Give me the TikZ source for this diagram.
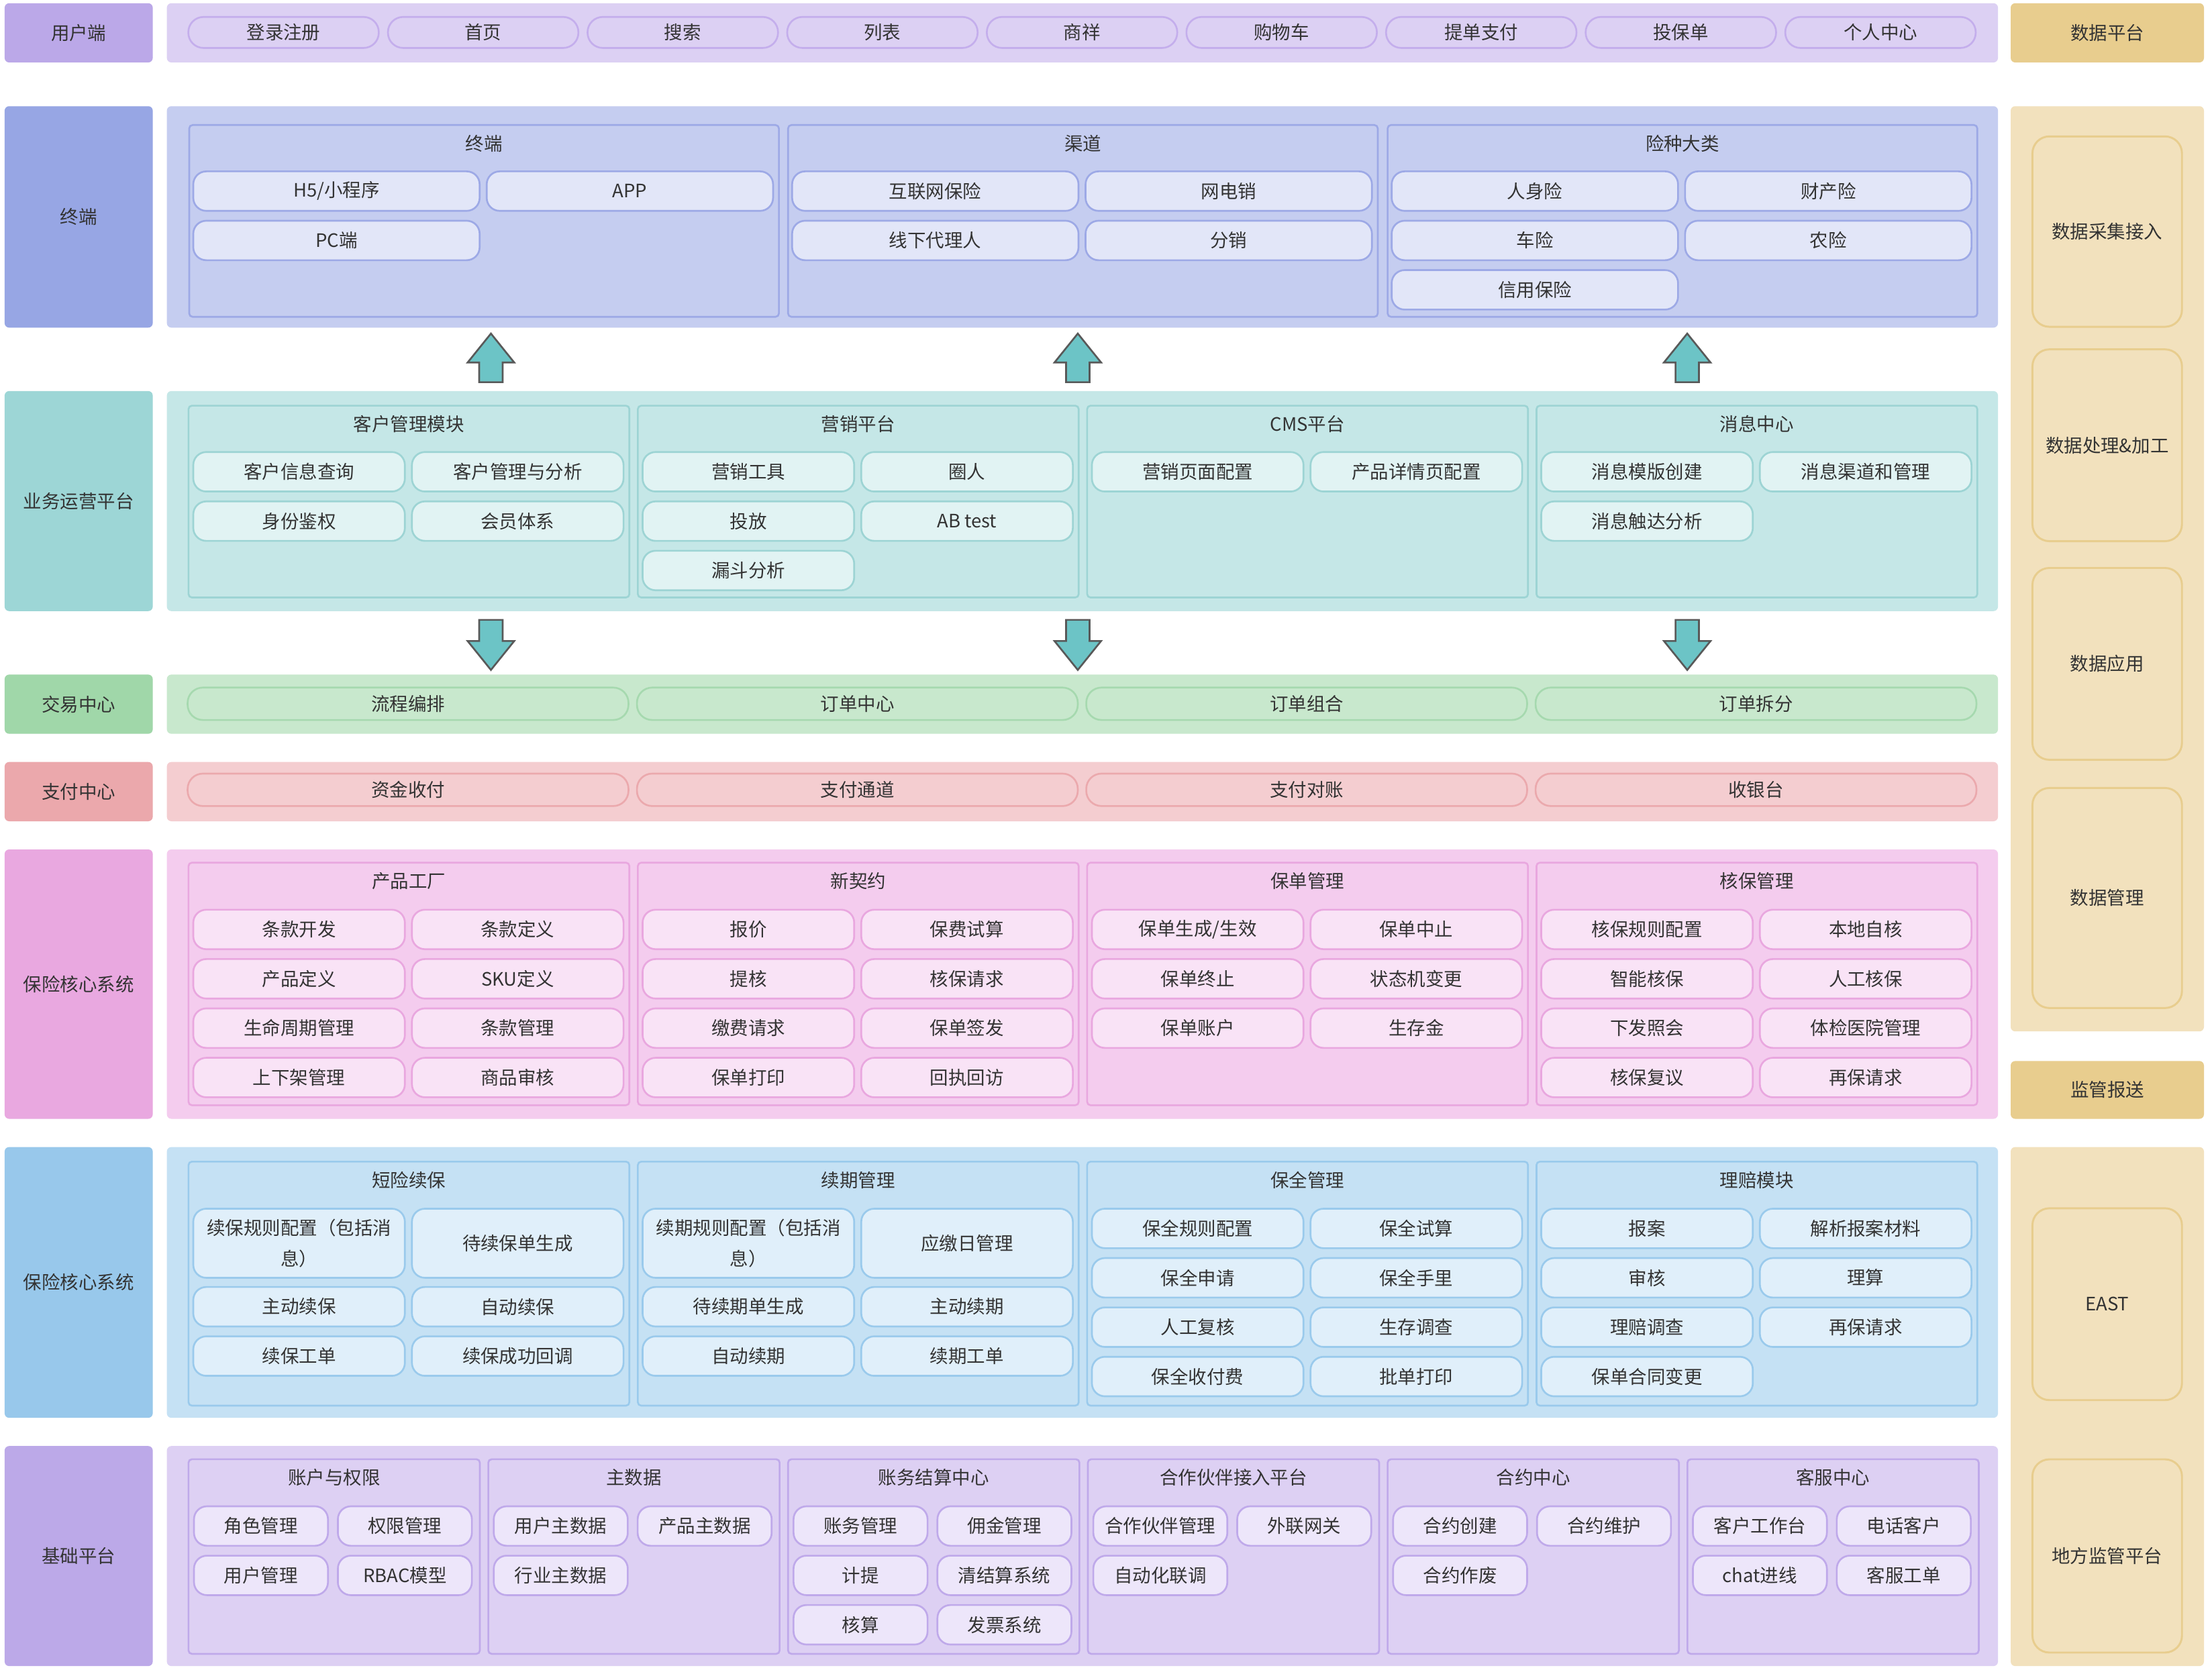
\documentclass[tikz,border=0pt]{standalone}
\usepackage{fontspec}
\setmainfont{Noto Sans CJK SC}
\usetikzlibrary{positioning, calc}

\definecolor{txt}{HTML}{333333}
\definecolor{usrL}{HTML}{BBA8E8}\definecolor{usrP}{HTML}{DCD0F3}\definecolor{usrB}{HTML}{C4AEEC}
\definecolor{endL}{HTML}{97A6E4}\definecolor{endP}{HTML}{C5CDF0}\definecolor{endB}{HTML}{9DA9E6}\definecolor{endI}{HTML}{E2E6F8}
\definecolor{opsL}{HTML}{9DD6D6}\definecolor{opsP}{HTML}{C5E7E7}\definecolor{opsB}{HTML}{9DD4D4}\definecolor{opsI}{HTML}{E1F3F3}
\definecolor{trdL}{HTML}{A0D7A9}\definecolor{trdP}{HTML}{C8E8CD}\definecolor{trdB}{HTML}{A6D9AF}
\definecolor{payL}{HTML}{EBA8AC}\definecolor{payP}{HTML}{F4CDD0}\definecolor{payB}{HTML}{EBA9AD}
\definecolor{pnkL}{HTML}{E9A8E0}\definecolor{pnkP}{HTML}{F4CCEE}\definecolor{pnkB}{HTML}{E9A7DF}\definecolor{pnkI}{HTML}{F9E3F6}
\definecolor{bluL}{HTML}{98C8EB}\definecolor{bluP}{HTML}{C5E1F4}\definecolor{bluB}{HTML}{9ACAEC}\definecolor{bluI}{HTML}{E0EFFA}
\definecolor{basL}{HTML}{BCA9E8}\definecolor{basP}{HTML}{DDD0F3}\definecolor{basB}{HTML}{BFA9EA}\definecolor{basI}{HTML}{EDE6FA}
\definecolor{datH}{HTML}{E8CD8E}\definecolor{datP}{HTML}{F2E1BD}
\definecolor{arrF}{HTML}{6CC4C6}\definecolor{arrD}{HTML}{595959}

\newcommand\boxfont{\fontsize{9.3}{11}\selectfont}
\newcommand\dblfont{\fontsize{9.3}{15.3}\selectfont}

\tikzset{
  sz/.style 2 args={minimum width=#1*0.25mm, minimum height=#2*0.25mm},
  lane/.style={rounded corners=0.8mm, inner sep=0pt, anchor=north west,
    font=\boxfont, text=txt},
  grp/.style={draw, line width=0.9pt, rounded corners=0.6mm, inner sep=0pt,
    anchor=north west},
  ttl/.style={font=\boxfont, text=txt},
  itm/.style={draw, line width=0.9pt, rounded corners=2.3mm, inner sep=0pt,
    align=center, font=\boxfont, text=txt},
  pill/.style={itm, rounded corners=2.7mm},
  dsub/.style={draw=datH, line width=1pt, rounded corners=3mm, inner sep=0pt,
    anchor=north west, font=\boxfont, text=txt},
  barrow/.style={fill=arrF, draw=arrD, line width=0.9pt, line join=miter}
}

% name, left, top, width, height, title
\newcommand\modbox[6]{%
  \node[grp, sz={#4}{#5}] (#1) at (#2,#3) {};
  \node[ttl] (#1t) at ($(#1.north)+(0,13.7)$) {#6};
}
% prefix, x of first column, column pitch, y of first row, width, items
\newcommand\modrows[6]{%
  \foreach \nm [count=\k from 0] in {#6}{%
    \pgfmathtruncatemacro\cc{mod(\k,2)}%
    \pgfmathtruncatemacro\rr{\k/2}%
    \node[itm, sz={#5}{28}] (#1\k) at ({#2+\cc*#3},{#4+\rr*35}) {\nm};
  }%
}

\begin{document}
\begin{tikzpicture}[x=0.25mm, y=-0.25mm]
  \useasboundingbox (0,0) rectangle (1568,1184);
  \fill[white] (0,0) rectangle (1568,1184);

  % layers on the left
  \node[lane, fill=usrL, sz={105}{42}]   (uL) at (3,2)    {用户端};
  \node[lane, fill=usrP, sz={1298}{42}]  (uP) at (118,2)  {};
  \node[lane, fill=endL, sz={105}{157}]  (eL) at (3,75)   {终端};
  \node[lane, fill=endP, sz={1298}{157}] (eP) at (118,75) {};
  \node[lane, fill=opsL, sz={105}{156}]  (oL) at (3,277)  {业务运营平台};
  \node[lane, fill=opsP, sz={1298}{156}] (oP) at (118,277) {};
  \node[lane, fill=trdL, sz={105}{42}]   (tL) at (3,478)  {交易中心};
  \node[lane, fill=trdP, sz={1298}{42}]  (tP) at (118,478) {};
  \node[lane, fill=payL, sz={105}{42}]   (zL) at (3,540)  {支付中心};
  \node[lane, fill=payP, sz={1298}{42}]  (zP) at (118,540) {};
  \node[lane, fill=pnkL, sz={105}{191}]  (kL) at (3,602)  {保险核心系统};
  \node[lane, fill=pnkP, sz={1298}{191}] (kP) at (118,602) {};
  \node[lane, fill=bluL, sz={105}{192}]  (sL) at (3,813)  {保险核心系统};
  \node[lane, fill=bluP, sz={1298}{192}] (sP) at (118,813) {};
  \node[lane, fill=basL, sz={105}{156}]  (bL) at (3,1025) {基础平台};
  \node[lane, fill=basP, sz={1298}{156}] (bP) at (118,1025) {};

  % data column on the right
  \node[lane, fill=datH, sz={137}{42}]  (dH) at (1425,2)   {数据平台};
  \node[lane, fill=datP, sz={137}{656}] (dP) at (1425,75)  {};
  \node[dsub, sz={106}{135}] (d1) at (1440,96)  {数据采集接入};
  \node[dsub, sz={106}{136}] (d2) at (1440,247) {数据处理\&加工};
  \node[dsub, sz={106}{136}] (d3) at (1440,402) {数据应用};
  \node[dsub, sz={106}{156}] (d4) at (1440,558) {数据管理};
  \node[lane, fill=datH, sz={137}{41}]  (rH) at (1425,752) {监管报送};
  \node[lane, fill=datP, sz={137}{368}] (rP) at (1425,813) {};
  \node[dsub, sz={106}{136}] (r1) at (1440,856)  {EAST};
  \node[dsub, sz={106}{137}] (r2) at (1440,1034) {地方监管平台};

  % 用户端
  \begin{scope}[itm/.append style={draw=usrB, fill=usrP}]
    \foreach \nm [count=\k from 0] in {登录注册,首页,搜索,列表,商祥,购物车,提单支付,投保单,个人中心}
      \node[pill, sz={135}{22}] (u\k) at ({201+\k*141.5},23) {\nm};
  \end{scope}

  % 终端
  \begin{scope}[grp/.append style={draw=endB}, itm/.append style={draw=endB, fill=endI}]
    \modbox{e1}{133.5}{88}{418}{136}{终端}
    \modrows{e1i}{238.5}{208}{135.5}{203}{H5/小程序,APP,PC端}
    \modbox{e2}{558}{88}{418}{136}{渠道}
    \modrows{e2i}{663}{208}{135.5}{203}{互联网保险,网电销,线下代理人,分销}
    \modbox{e3}{983}{88}{418}{136}{险种大类}
    \modrows{e3i}{1088}{208}{135.5}{203}{人身险,财产险,车险,农险,信用保险}
  \end{scope}

  % 业务运营平台
  \begin{scope}[grp/.append style={draw=opsB}, itm/.append style={draw=opsB, fill=opsI}]
    \modbox{o1}{133}{287}{312.5}{136}{客户管理模块}
    \modrows{o1i}{212}{155}{334.5}{150}{客户信息查询,客户管理与分析,身份鉴权,会员体系}
    \modbox{o2}{451.5}{287}{312.5}{136}{营销平台}
    \modrows{o2i}{530.5}{155}{334.5}{150}{营销工具,圈人,投放,AB test,漏斗分析}
    \modbox{o3}{770}{287}{312.5}{136}{CMS平台}
    \modrows{o3i}{849}{155}{334.5}{150}{营销页面配置,产品详情页配置}
    \modbox{o4}{1088.5}{287}{312.5}{136}{消息中心}
    \modrows{o4i}{1167.5}{155}{334.5}{150}{消息模版创建,消息渠道和管理,消息触达分析}
  \end{scope}

  % 交易中心, 支付中心
  \begin{scope}[itm/.append style={draw=trdB, fill=trdP}]
    \foreach \nm [count=\k from 0] in {流程编排,订单中心,订单组合,订单拆分}
      \node[pill, sz={312.5}{23}] (t\k) at ({289.25+\k*318.5},499) {\nm};
  \end{scope}
  \begin{scope}[itm/.append style={draw=payB, fill=payP}]
    \foreach \nm [count=\k from 0] in {资金收付,支付通道,支付对账,收银台}
      \node[pill, sz={312.5}{23}] (z\k) at ({289.25+\k*318.5},560) {\nm};
  \end{scope}

  % 保险核心系统 (pink)
  \begin{scope}[grp/.append style={draw=pnkB}, itm/.append style={draw=pnkB, fill=pnkI}]
    \modbox{k1}{133}{611}{312.5}{172}{产品工厂}
    \modrows{k1i}{212}{155}{659}{150}{条款开发,条款定义,产品定义,SKU定义,生命周期管理,条款管理,上下架管理,商品审核}
    \modbox{k2}{451.5}{611}{312.5}{172}{新契约}
    \modrows{k2i}{530.5}{155}{659}{150}{报价,保费试算,提核,核保请求,缴费请求,保单签发,保单打印,回执回访}
    \modbox{k3}{770}{611}{312.5}{172}{保单管理}
    \modrows{k3i}{849}{155}{659}{150}{保单生成/生效,保单中止,保单终止,状态机变更,保单账户,生存金}
    \modbox{k4}{1088.5}{611}{312.5}{172}{核保管理}
    \modrows{k4i}{1167.5}{155}{659}{150}{核保规则配置,本地自核,智能核保,人工核保,下发照会,体检医院管理,核保复议,再保请求}
  \end{scope}

  % 保险核心系统 (blue)
  \begin{scope}[grp/.append style={draw=bluB}, itm/.append style={draw=bluB, fill=bluI}]
    \modbox{s1}{133}{823}{312.5}{173}{短险续保}
    \node[itm, sz={150}{49}, font=\dblfont] (s1d0) at (212,881.5) {续保规则配置（包括消\\息）};
    \node[itm, sz={150}{49}] (s1d1) at (367,881.5) {待续保单生成};
    \modrows{s1i}{212}{155}{926.5}{150}{主动续保,自动续保,续保工单,续保成功回调}
    \modbox{s2}{451.5}{823}{312.5}{173}{续期管理}
    \node[itm, sz={150}{49}, font=\dblfont] (s2d0) at (530.5,881.5) {续期规则配置（包括消\\息）};
    \node[itm, sz={150}{49}] (s2d1) at (685.5,881.5) {应缴日管理};
    \modrows{s2i}{530.5}{155}{926.5}{150}{待续期单生成,主动续期,自动续期,续期工单}
    \modbox{s3}{770}{823}{312.5}{173}{保全管理}
    \modrows{s3i}{849}{155}{871}{150}{保全规则配置,保全试算,保全申请,保全手里,人工复核,生存调查,保全收付费,批单打印}
    \modbox{s4}{1088.5}{823}{312.5}{173}{理赔模块}
    \modrows{s4i}{1167.5}{155}{871}{150}{报案,解析报案材料,审核,理算,理赔调查,再保请求,保单合同变更}
  \end{scope}

  % 基础平台
  \begin{scope}[grp/.append style={draw=basB}, itm/.append style={draw=basB, fill=basI}]
    \modbox{b1}{133}{1034}{206.5}{138}{账户与权限}
    \modrows{b1i}{185}{102}{1082}{95}{角色管理,权限管理,用户管理,RBAC模型}
    \modbox{b2}{345.5}{1034}{206.5}{138}{主数据}
    \modrows{b2i}{397.5}{102}{1082}{95}{用户主数据,产品主数据,行业主数据}
    \modbox{b3}{558}{1034}{206.5}{138}{账务结算中心}
    \modrows{b3i}{610}{102}{1082}{95}{账务管理,佣金管理,计提,清结算系统,核算,发票系统}
    \modbox{b4}{770.5}{1034}{206.5}{138}{合作伙伴接入平台}
    \modrows{b4i}{822.5}{102}{1082}{95}{合作伙伴管理,外联网关,自动化联调}
    \modbox{b5}{983}{1034}{206.5}{138}{合约中心}
    \modrows{b5i}{1035}{102}{1082}{95}{合约创建,合约维护,合约作废}
    \modbox{b6}{1195.5}{1034}{206.5}{138}{客服中心}
    \modrows{b6i}{1247.5}{102}{1082}{95}{客户工作台,电话客户,chat进线,客服工单}
  \end{scope}

  % block arrows between the layers
  \foreach \ax in {348,764,1196}{
    \draw[barrow] (\ax,236.5) -- ++(16.5,20.5) -- ++(-8.2,0) -- ++(0,14)
      -- ++(-16.6,0) -- ++(0,-14) -- ++(-8.2,0) -- cycle;
    \draw[barrow] (\ax,475) -- ++(16.5,-20.5) -- ++(-8.2,0) -- ++(0,-15)
      -- ++(-16.6,0) -- ++(0,15) -- ++(-8.2,0) -- cycle;
  }

\end{tikzpicture}
\end{document}
